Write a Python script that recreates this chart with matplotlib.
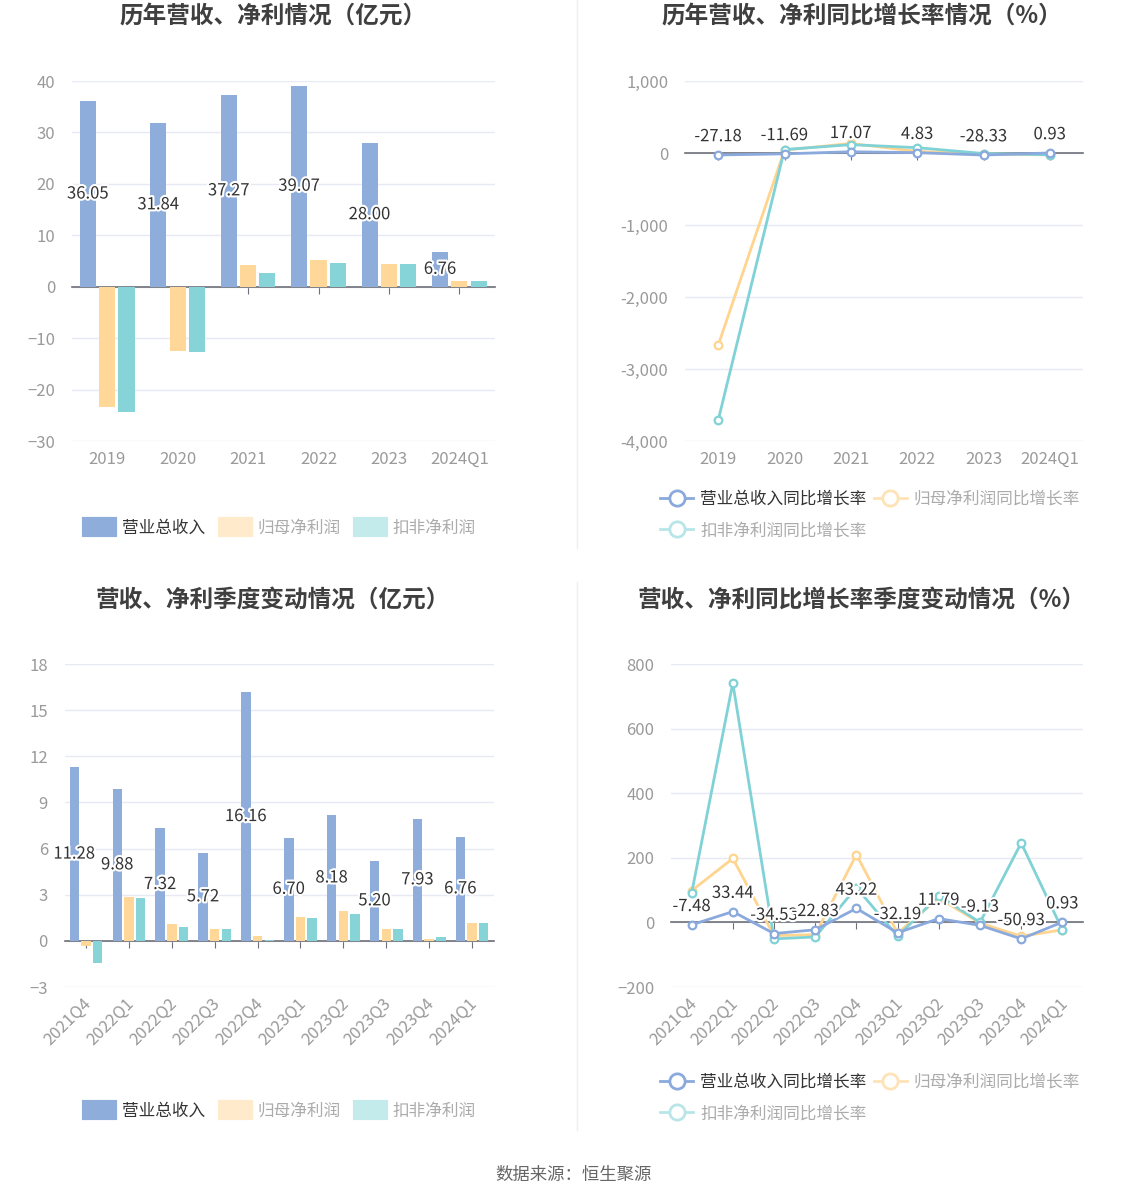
import matplotlib
matplotlib.use("Agg")
import matplotlib.pyplot as plt
import matplotlib.patheffects as pe
from matplotlib.patches import Rectangle
from matplotlib.lines import Line2D
from matplotlib.ticker import FuncFormatter, MultipleLocator
import numpy as np

plt.rcParams['font.family'] = ['Noto Sans CJK SC', 'DejaVu Sans']

# ---------------- data ----------------
years = ['2019', '2020', '2021', '2022', '2023', '2024Q1']
rev_year = [36.05, 31.84, 37.27, 39.07, 28.00, 6.76]
np_year = [-23.4, -12.5, 4.2, 5.1, 4.5, 1.13]
dnp_year = [-24.35, -12.7, 2.6, 4.7, 4.35, 1.13]

rev_year_g = [-27.18, -11.69, 17.07, 4.83, -28.33, 0.93]
np_year_g = [-2671, 40, 133, 21, -12, -27]
dnp_year_g = [-3713, 48, 116, 74, -7, -25]

quarters = ['2021Q4', '2022Q1', '2022Q2', '2022Q3', '2022Q4',
            '2023Q1', '2023Q2', '2023Q3', '2023Q4', '2024Q1']
rev_q = [11.28, 9.88, 7.32, 5.72, 16.16, 6.70, 8.18, 5.20, 7.93, 6.76]
np_q = [-0.33, 2.87, 1.09, 0.80, 0.30, 1.54, 1.91, 0.76, 0.15, 1.13]
dnp_q = [-1.44, 2.78, 0.93, 0.76, 0.07, 1.50, 1.74, 0.76, 0.28, 1.13]

rev_q_g = [-7.48, 33.44, -34.53, -22.83, 43.22, -32.19, 11.79, -9.13, -50.93, 0.93]
np_q_g = [98, 198, -41, -38, 210, -33, 75, -2, -43, -23]
dnp_q_g = [90, 741, -51, -45, 108, -43, 83, 0, 246, -23]

# ---------------- style ----------------
BLUE = '#8EADDB'
YELLOW = '#FFD899'
TEAL = '#86D4D8'
LBLUE = '#8AA9DC'
LYELLOW = '#FFD48F'
LTEAL = '#80D2D6'
GRID = '#E6EAF4'
AXIS = '#6E7079'
TICK = '#9A9A9A'
TITLE = '#3F3F3F'
LABEL = '#333333'
FADE_TXT = '#ABABAB'

W, H = 1148, 1202
fig = plt.figure(figsize=(W / 100, H / 100), dpi=100)
fig.patch.set_facecolor('white')

def rect(l, t, r, b):
    return [l / W, 1 - b / H, (r - l) / W, (b - t) / H]

halo = [pe.withStroke(linewidth=3, foreground='white')]

def style_axes(ax, cats, ylim, step, fmt=None, rot=False):
    n = len(cats)
    ax.set_xlim(-0.5, n - 0.5)
    ax.set_ylim(*ylim)
    ax.yaxis.set_major_locator(MultipleLocator(step))
    if fmt:
        ax.yaxis.set_major_formatter(FuncFormatter(fmt))
    ax.grid(axis='y', color=GRID, linewidth=1)
    ax.set_axisbelow(True)
    for s in ['top', 'right', 'left']:
        ax.spines[s].set_visible(False)
    ax.spines['bottom'].set_position(('data', 0))
    ax.spines['bottom'].set_color(AXIS)
    ax.spines['bottom'].set_linewidth(1.2)
    ax.spines['bottom'].set_zorder(2)
    ax.set_xticks(range(n))
    ax.tick_params(axis='x', direction='out', length=5, color=AXIS, labelbottom=False)
    ax.tick_params(axis='y', length=0, labelsize=12, labelcolor=TICK, pad=12)
    for i, c in enumerate(cats):
        if rot:
            ax.text(i - 0.08, -0.025, c, transform=ax.get_xaxis_transform(),
                    rotation=45, ha='right', va='top', rotation_mode='anchor',
                    fontsize=12, color=TICK)
        else:
            ax.text(i, -0.028, c, transform=ax.get_xaxis_transform(),
                    ha='center', va='top', fontsize=12, color=TICK)

def bars(ax, cats, a, b, c, bw, pitch):
    x = np.arange(len(cats))
    ax.bar(x - pitch, a, bw, color=BLUE, zorder=3)
    ax.bar(x, b, bw, color=YELLOW, zorder=3)
    ax.bar(x + pitch, c, bw, color=TEAL, zorder=3)
    for xi, v in zip(x, a):
        ax.text(xi - pitch, v / 2, f'{v:.2f}', ha='center', va='center',
                fontsize=12, color=LABEL, zorder=5, path_effects=halo)

def lines(ax, cats, a, b, c):
    x = np.arange(len(cats))
    kw = dict(linewidth=2, marker='o', markersize=5.5, markerfacecolor='white',
              markeredgewidth=1.6, zorder=4)
    ax.plot(x, b, color=LYELLOW, **kw)
    ax.plot(x, c, color=LTEAL, **kw)
    ax.plot(x, a, color=LBLUE, **kw)
    for xi, v in zip(x, a):
        ax.annotate(f'{v:.2f}', (xi, v), xytext=(0, 7), textcoords='offset points',
                    ha='center', va='bottom', fontsize=12, color=LABEL, zorder=6,
                    path_effects=halo)

def thousands(v, p):
    return f'{int(v):,}'

# ---------- top-left ----------
ax1 = fig.add_axes(rect(72, 81, 494.6, 441))
style_axes(ax1, years, (-30, 40), 10)
bars(ax1, years, rev_year, np_year, dnp_year, 0.228, 0.274)

# ---------- top-right ----------
ax2 = fig.add_axes(rect(685, 81, 1083, 441))
style_axes(ax2, years, (-4000, 1000), 1000, fmt=thousands)
lines(ax2, years, rev_year_g, np_year_g, dnp_year_g)

# ---------- bottom-left ----------
ax3 = fig.add_axes(rect(64.6, 664, 493.5, 987))
style_axes(ax3, quarters, (-3, 18), 3, rot=True)
bars(ax3, quarters, rev_q, np_q, dnp_q, 0.222, 0.272)

# ---------- bottom-right ----------
ax4 = fig.add_axes(rect(671, 664, 1083, 987))
style_axes(ax4, quarters, (-200, 800), 200, rot=True)
lines(ax4, quarters, rev_q_g, np_q_g, dnp_q_g)

# ---------- titles ----------
tkw = dict(ha='center', va='center', fontsize=17, fontweight='bold', color=TITLE)
fig.text(273 / W, 1 - 17 / H, '历年营收、净利情况（亿元）', **tkw)
fig.text(862 / W, 1 - 17 / H, '历年营收、净利同比增长率情况（%）', **tkw)
fig.text(273 / W, 1 - 600 / H, '营收、净利季度变动情况（亿元）', **tkw)
fig.text(862 / W, 1 - 600 / H, '营收、净利同比增长率季度变动情况（%）', **tkw)

# ---------- legends ----------
def bar_handles():
    return [Rectangle((0, 0), 1, 1, facecolor=BLUE, edgecolor=BLUE, linewidth=3, joinstyle='round'),
            Rectangle((0, 0), 1, 1, facecolor='#FFEACC', edgecolor='#FFEACC', linewidth=3, joinstyle='round'),
            Rectangle((0, 0), 1, 1, facecolor='#C3EBEC', edgecolor='#C3EBEC', linewidth=3, joinstyle='round')]

bar_labels = ['营业总收入', '归母净利润', '扣非净利润']

def add_bar_legend(cy):
    lg = fig.legend(bar_handles(), bar_labels, loc='center',
                    bbox_to_anchor=(280 / W, 1 - cy / H), ncol=3, frameon=False,
                    fontsize=12, handlelength=1.85, handleheight=1.05,
                    handletextpad=0.4, columnspacing=0.9)
    cols = [LABEL, FADE_TXT, FADE_TXT]
    for t, c in zip(lg.get_texts(), cols):
        t.set_color(c)

add_bar_legend(528)
add_bar_legend(1111)

def line_handles():
    kw = dict(linewidth=2, marker='o', markersize=11, markerfacecolor='white', markeredgewidth=2)
    return [Line2D([], [], color=LBLUE, **kw),
            Line2D([], [], color='#B8E6E8', **kw),
            Line2D([], [], color='#FFE3B8', **kw)]

line_labels = ['营业总收入同比增长率', '扣非净利润同比增长率', '归母净利润同比增长率']

def add_line_legend(cy):
    lg = fig.legend(line_handles(), line_labels, loc='upper left',
                    bbox_to_anchor=(645 / W, 1 - cy / H), ncol=2, frameon=False,
                    fontsize=12, handlelength=2.0, handletextpad=0.4,
                    columnspacing=0.45, labelspacing=0.85)
    cols = [LABEL, FADE_TXT, FADE_TXT]
    for t, c in zip(lg.get_texts(), cols):
        t.set_color(c)

add_line_legend(476)
add_line_legend(1059)

# ---------- separators and footer ----------
fig.add_artist(Line2D([577 / W, 577 / W], [1 - 0 / H, 1 - 548 / H], color='#EEEEEE', linewidth=1))
fig.add_artist(Line2D([577 / W, 577 / W], [1 - 582 / H, 1 - 1130 / H], color='#EEEEEE', linewidth=1))
fig.text(574 / W, 1 - 1175 / H, '数据来源：恒生聚源', ha='center', va='center', fontsize=12.5, color='#666666')

fig.savefig('out.png', dpi=100, facecolor='white')
